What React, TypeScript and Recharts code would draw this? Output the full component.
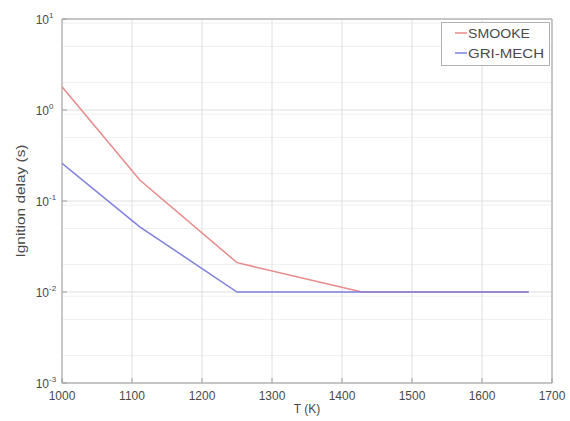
import React from 'react';
import { LineChart, Line, XAxis, YAxis, CartesianGrid, Legend, ReferenceArea, Label } from 'recharts';

// Ignition delay vs. temperature for two kinetic mechanisms
const temperatures = [1000, 1111.1, 1250, 1428.6, 1666.7];
const smookeDelay = [1.8, 0.17, 0.021, 0.01, 0.01];
const griMechDelay = [0.26, 0.052, 0.01, 0.01, 0.01];

const seriesNames = ['SMOOKE', 'GRI-MECH'];
const seriesColors = ['#e88a8a', '#7f7fe0'];

const xTicks = [1000, 1100, 1200, 1300, 1400, 1500, 1600, 1700];
const decadeTicks = [0.001, 0.01, 0.1, 1, 10];
const minorMultipliers = [2, 3, 4, 5, 6, 7, 8, 9];
const minorTicks = decadeTicks.slice(0, -1).flatMap((d) => minorMultipliers.map((m) => m * d));

const data = temperatures.map((t, i) => ({
  T: t,
  smooke: smookeDelay[i],
  gri: griMechDelay[i],
}));

const FONT = '"Liberation Sans", Arial, Helvetica, sans-serif';
const TEXT = '#4a4a4a';
const FRAME = '#a0a0a0';

const XTick = (props: any) => {
  const { x, y, payload } = props;
  return (
    <g>
      <line x1={x} y1={y} x2={x} y2={y - 5} stroke={FRAME} strokeWidth={1} />
      <text x={x} y={y + 17} textAnchor="middle" fontSize={12} fontFamily={FONT} fill={TEXT}>
        {payload.value}
      </text>
    </g>
  );
};

const YTick = (props: any) => {
  const { x, y, payload } = props;
  const exp = Math.round(Math.log10(payload.value));
  return (
    <g>
      <line x1={x} y1={y} x2={x + 5} y2={y} stroke={FRAME} strokeWidth={1} />
      <text x={x - 13} y={y + 5} textAnchor="end" fontSize={12} fontFamily={FONT} fill={TEXT}>
        10
      </text>
      <text x={x - 13} y={y - 1} textAnchor="start" fontSize={8} fontFamily={FONT} fill={TEXT}>
        {exp}
      </text>
    </g>
  );
};

const renderLegend = () => (
  <svg width={109} height={44} style={{ display: 'block' }}>
    <rect x={0.5} y={0.5} width={108} height={43} fill="#ffffff" stroke="#b0b0b0" strokeWidth={1} />
    {seriesNames.map((name, i) => (
      <g key={name}>
        <line x1={14} y1={11 + i * 20} x2={26} y2={11 + i * 20} stroke={seriesColors[i]} strokeWidth={1.5} />
        <text
          x={27}
          y={15.5 + i * 20}
          fontSize={12}
          fontFamily={FONT}
          fill={TEXT}
          textLength={i === 0 ? 62 : 76}
          lengthAdjust="spacingAndGlyphs"
        >
          {name}
        </text>
      </g>
    ))}
  </svg>
);

export default function App() {
  return (
    <div style={{ position: 'absolute', left: 0, top: 0, background: '#ffffff' }}>
      <LineChart width={570} height={421} data={data} margin={{ top: 19, right: 18, bottom: 0, left: 0 }}>
        <CartesianGrid yAxisId="minor" xAxisId="x" vertical={false} stroke="#efefef" strokeWidth={1} />
        <CartesianGrid yAxisId="major" xAxisId="x" stroke="#dedede" strokeWidth={1} />
        <XAxis
          xAxisId="x"
          dataKey="T"
          type="number"
          domain={[1000, 1700]}
          ticks={xTicks}
          allowDataOverflow
          height={38}
          tickSize={0}
          tickMargin={0}
          axisLine={false}
          tick={<XTick />}
        >
          <Label
            content={(p: any) => {
              const vb = p.viewBox;
              return (
                <text x={vb.x + vb.width / 2} y={vb.y + 30} textAnchor="middle" fontSize={12} fontFamily={FONT} fill={TEXT}>
                  T (K)
                </text>
              );
            }}
          />
        </XAxis>
        <YAxis
          yAxisId="major"
          scale="log"
          type="number"
          domain={[0.001, 10]}
          ticks={decadeTicks}
          allowDataOverflow
          width={62}
          tickSize={0}
          tickMargin={0}
          axisLine={false}
          tick={<YTick />}
        >
          <Label
            content={(p: any) => {
              const vb = p.viewBox;
              const cx = 21;
              const cy = vb.y + vb.height / 2;
              return (
                <text
                  x={cx}
                  y={cy}
                  transform={`rotate(-90 ${cx} ${cy})`}
                  textAnchor="middle"
                  dominantBaseline="central"
                  fontSize={12}
                  fontFamily={FONT}
                  fill={TEXT}
                  textLength={113}
                  lengthAdjust="spacingAndGlyphs"
                >
                  Ignition delay (s)
                </text>
              );
            }}
          />
        </YAxis>
        <YAxis
          yAxisId="minor"
          scale="log"
          type="number"
          domain={[0.001, 10]}
          ticks={minorTicks}
          allowDataOverflow
          hide
        />
        <ReferenceArea
          xAxisId="x"
          yAxisId="major"
          x1={1000}
          x2={1700}
          y1={0.001}
          y2={10}
          fill="none"
          stroke={FRAME}
          strokeWidth={1}
          ifOverflow="visible"
        />
        <Line
          xAxisId="x"
          yAxisId="major"
          type="linear"
          dataKey="smooke"
          name={seriesNames[0]}
          stroke={seriesColors[0]}
          strokeWidth={1.5}
          dot={false}
          isAnimationActive={false}
        />
        <Line
          xAxisId="x"
          yAxisId="major"
          type="linear"
          dataKey="gri"
          name={seriesNames[1]}
          stroke={seriesColors[1]}
          strokeWidth={1.5}
          dot={false}
          isAnimationActive={false}
        />
        <Legend
          layout="vertical"
          align="center"
          verticalAlign="middle"
          content={renderLegend}
          wrapperStyle={{ position: 'absolute', left: 441, top: 22, width: 109, height: 44 }}
        />
      </LineChart>
    </div>
  );
}
